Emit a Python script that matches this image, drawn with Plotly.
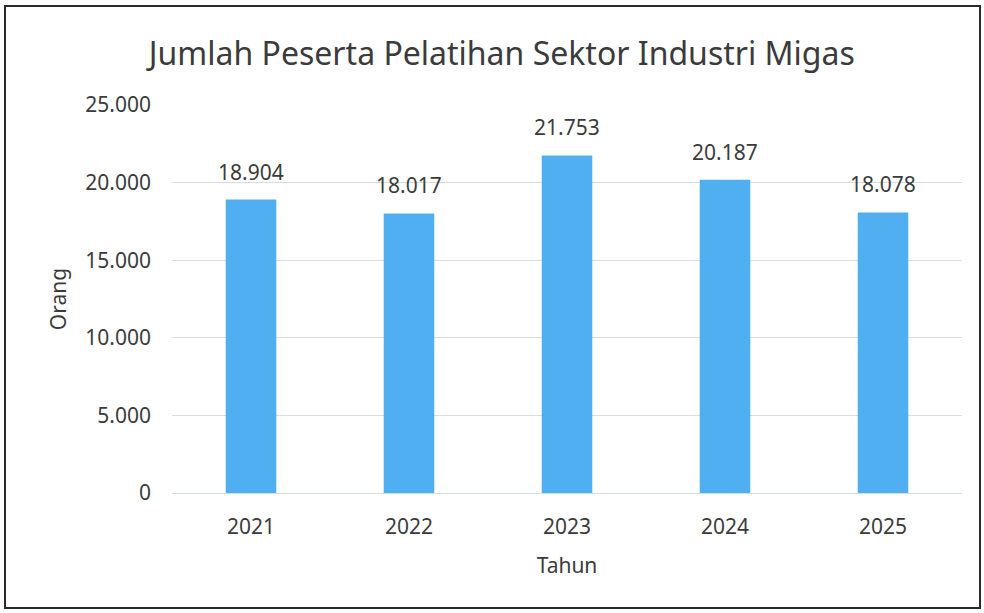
import plotly.graph_objects as go

years = ["2021", "2022", "2023", "2024", "2025"]
peserta = [18904, 18017, 21753, 20187, 18078]
y_ticks = [0, 5000, 10000, 15000, 20000, 25000]

title_text = "Jumlah Peserta Pelatihan Sektor Industri Migas"
x_title = "Tahun"
y_title = "Orang"

FONT = "Noto Sans"
TXT = "#3b3b3b"
BAR = "#4faff0"

fig = go.Figure()
fig.add_trace(go.Bar(
    x=years, y=peserta, marker=dict(color=BAR, line=dict(width=0)),
    hoverinfo="x+y", showlegend=False,
))

for i, v in enumerate(peserta):
    fig.add_annotation(
        x=i, y=v, xref="x", yref="y", text=f"{v:,}".replace(",", "."),
        showarrow=False, yanchor="bottom", yshift=12,
        font=dict(family=FONT, size=21, color=TXT),
    )

fig.update_layout(
    width=984, height=613,
    margin=dict(l=172, r=22, t=105, b=120),
    paper_bgcolor="white", plot_bgcolor="white",
    separators=",.",
    bargap=0.68,
    font=dict(family=FONT, size=20, color=TXT),
    title=dict(text=title_text, x=0.51, xanchor="center", y=0.912, yanchor="middle",
               font=dict(family=FONT, size=32, color=TXT)),
    xaxis=dict(
        type="category", showgrid=False, showline=False, zeroline=False,
        ticks="", ticklabelstandoff=19,
        tickfont=dict(family=FONT, size=21, color=TXT),
        title=dict(text=x_title, standoff=19, font=dict(family=FONT, size=21, color=TXT)),
    ),
    yaxis=dict(
        range=[0, 25000], tickvals=y_ticks, tickformat=",d",
        showgrid=True, gridcolor="#d7dde3", gridwidth=1,
        zeroline=True, zerolinecolor="#d7dde3", zerolinewidth=1,
        showline=False, ticks="", ticklabelstandoff=20,
        tickfont=dict(family=FONT, size=21, color=TXT),
        title=dict(text=y_title, standoff=12, font=dict(family=FONT, size=21, color=TXT)),
    ),
    shapes=[dict(
        type="rect", xref="paper", yref="paper",
        x0=-0.2114, x1=1.0228, y0=-0.2964, y1=1.2552,
        line=dict(color="#2a2a2a", width=2), fillcolor="rgba(0,0,0,0)", layer="below",
    )],
)

fig.write_html("out.html", config={"displayModeBar": False},
               post_script="document.body.style.margin='0';")
